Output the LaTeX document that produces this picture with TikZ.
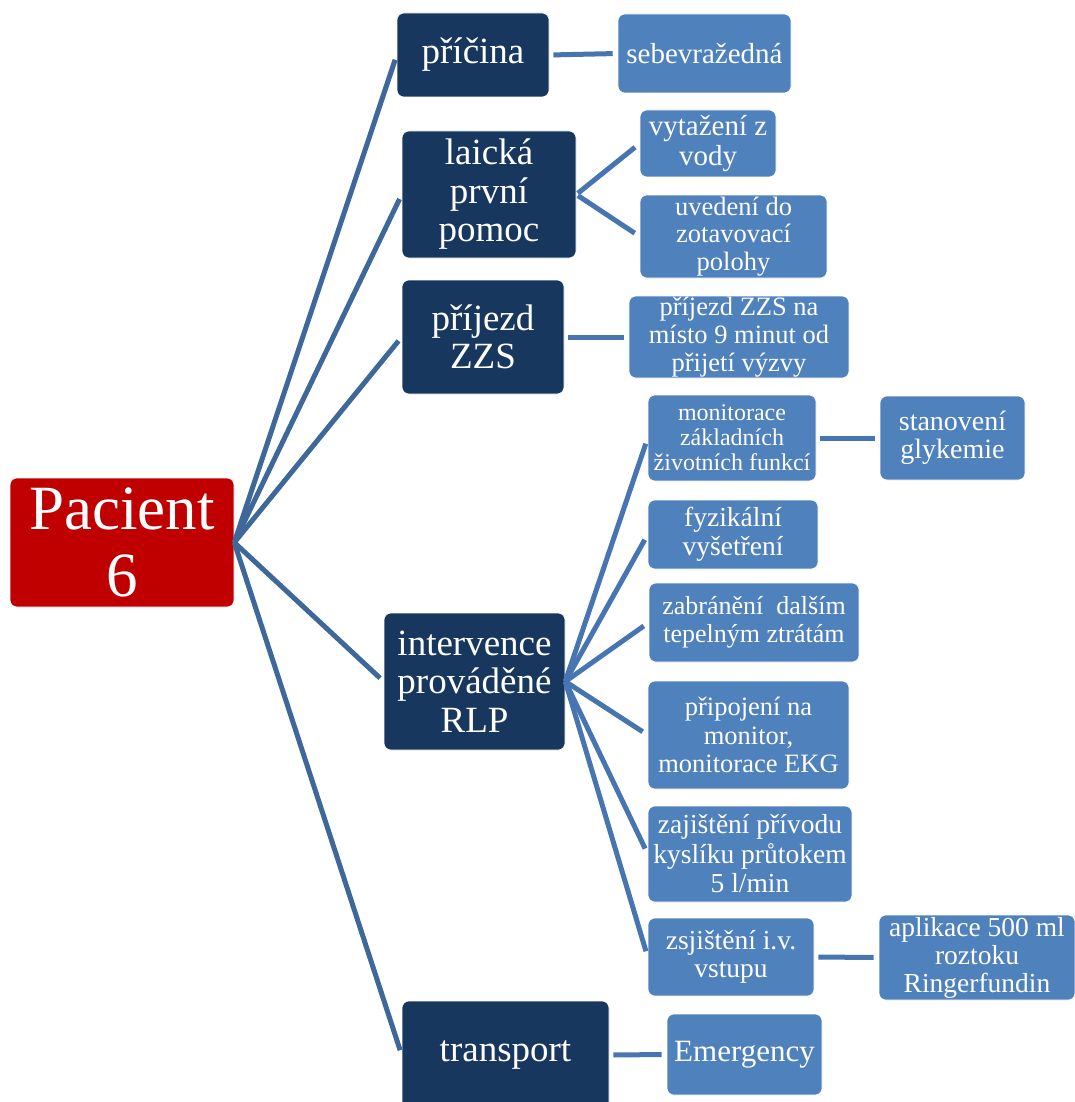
\documentclass[tikz,border=0pt]{standalone}
\usepackage{fontspec}
\setmainfont{Liberation Serif}
\definecolor{rootred}{HTML}{C00000}
\definecolor{topicnavy}{HTML}{17375E}
\definecolor{leafblue}{HTML}{4F81BD}
\definecolor{linkdark}{HTML}{3E6899}
\definecolor{linklight}{HTML}{4775B2}
\begin{document}
\begin{tikzpicture}[x=1pt,y=-1pt,
  box/.style={rectangle, rounded corners=7pt, inner sep=0pt, align=center,
    text=white, draw=white, line width=0.6pt},
  rootbox/.style={box, fill=rootred},
  topicbox/.style={box, fill=topicnavy, font=\fontsize{37}{38.5}\selectfont},
  leafbox/.style={box, fill=leafblue},
  link/.style={draw=linkdark, line width=5pt},
  sublink/.style={draw=linklight, line width=5pt},
  fs/.style 2 args={font=\fontsize{#1}{#2}\selectfont},
  sz/.style 2 args={minimum width=#1pt, minimum height=#2pt}]
\useasboundingbox (0,0) rectangle (1075,1102);

% root
\node[rootbox, sz={224}{129}, fs={63}{67}] (pac) at (122,542.5) {Pacient\\6};

% first level
\node[topicbox, sz={152}{84}]  (pri) at (473,55)     {příčina};
\node[topicbox, sz={174}{127}] (lai) at (489,194.5)  {laická\\první\\pomoc};
\node[topicbox, sz={162}{114}] (prj) at (483,337)    {příjezd\\ZZS};
\node[topicbox, sz={181}{137}] (int) at (474.5,681.5){intervence\\prováděné\\RLP};
\node[topicbox, sz={207}{108}] (trn) at (505.5,1055) {transport};

% second level
\node[leafbox, sz={173}{79},  fs={29}{30}]   (seb) at (704.5,53.5) {sebevražedná};
\node[leafbox, sz={136}{67},  fs={29}{30}]   (vyt) at (708,143.5)  {vytažení z\\vody};
\node[leafbox, sz={187}{83},  fs={26.5}{27.5}] (uve) at (733.5,236.5){uvedení do\\zotavovací\\polohy};
\node[leafbox, sz={220}{82},  fs={26.5}{28}] (zzs) at (739,337)    {příjezd ZZS na\\místo 9 minut od\\přijetí výzvy};
\node[leafbox, sz={168}{86},  fs={24}{25}]   (mon) at (732,438)    {monitorace\\základních\\životních funkcí};
\node[leafbox, sz={170}{69},  fs={27.5}{29}] (fyz) at (733,534.5)  {fyzikální\\vyšetření};
\node[leafbox, sz={210}{79},  fs={26}{28}]   (zab) at (754,622.5)  {zabránění\ \ dalším\\tepelným ztrátám};
\node[leafbox, sz={201}{108}, fs={26.5}{28.5}](ekg) at (748.5,735)  {připojení na\\monitor,\\monitorace EKG};
\node[leafbox, sz={204}{96},  fs={27.5}{29.5}] (kys) at (750,854)    {zajištění přívodu\\kyslíku průtokem\\5 l/min};
\node[leafbox, sz={166}{78},  fs={27.5}{28}] (ivv) at (731,957)    {zsjištění i.v.\\vstupu};
\node[leafbox, sz={145}{84},  fs={28}{28}]   (gly) at (952.5,438)  {stanovení\\glykemie};
\node[leafbox, sz={196}{85},  fs={27.5}{28}] (apl) at (977,957.5)  {aplikace 500 ml\\roztoku\\Ringerfundin};
\node[leafbox, sz={155}{81},  fs={31}{32}]   (eme) at (744.5,1054.5){Emergency};

% connectors from the root
\foreach \t in {pri,lai,prj,int,trn}
  \draw[link, shorten >=5pt] (pac.east) -- (\t.west);
% connectors to the detail boxes
\foreach \a/\b in {pri/seb, prj/zzs, mon/gly, ivv/apl, trn/eme}
  \draw[sublink, shorten <=4pt, shorten >=5pt] (\a.east) -- (\b.west);
\foreach \t in {vyt,uve}
  \draw[sublink, shorten <=2pt, shorten >=6pt] (lai.east) -- (\t.west);
\foreach \t in {mon,fyz,zab,ekg,kys,ivv}
  \draw[sublink, shorten >=6pt] (int.east) -- (\t.west);
\end{tikzpicture}
\end{document}
